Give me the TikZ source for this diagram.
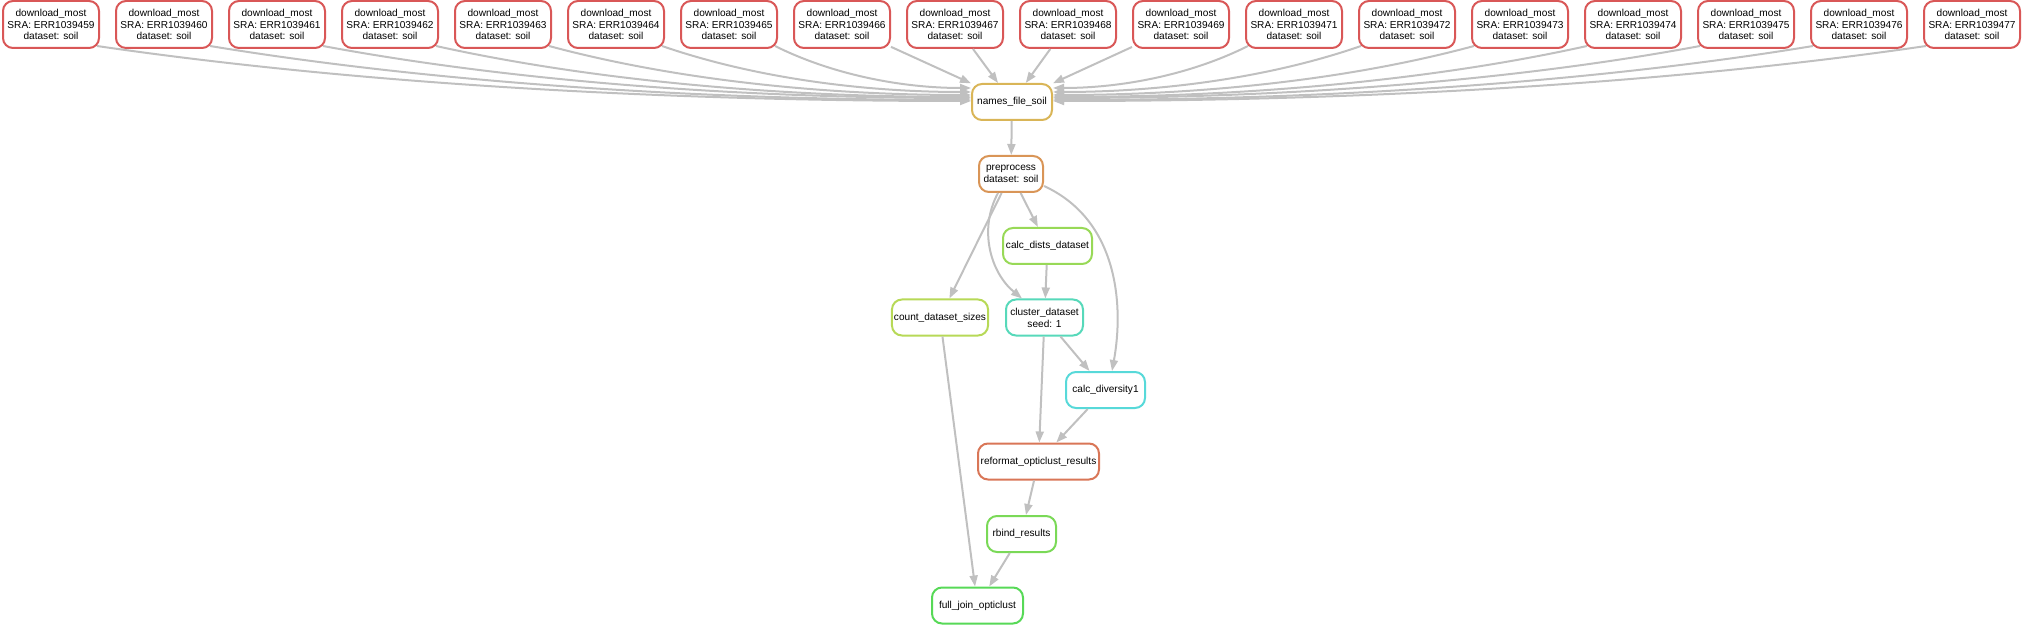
\documentclass[tikz,border=0pt]{standalone}
\usepackage{fontspec}
\setmainfont{Liberation Sans}
\usetikzlibrary{arrows.meta}
\definecolor{edgegray}{RGB}{192,192,192}
\definecolor{cdownload}{RGB}{217,87,87}
\definecolor{cnames}{RGB}{217,181,87}
\definecolor{cprep}{RGB}{217,149,87}
\definecolor{cdists}{RGB}{152,217,87}
\definecolor{ccount}{RGB}{183,217,87}
\definecolor{cclust}{RGB}{87,217,186}
\definecolor{cdiv}{RGB}{87,217,217}
\definecolor{creform}{RGB}{217,118,87}
\definecolor{crbind}{RGB}{122,217,87}
\definecolor{cjoin}{RGB}{87,217,87}
\begin{document}
\begin{tikzpicture}[x=1pt, y=-1pt,
  font=\fontsize{10.1pt}{11.8pt}\selectfont,
  job/.style={draw=#1, line width=2pt, rounded corners=10pt, fill=white,
    align=center, inner xsep=2pt, inner ysep=2pt, minimum height=36pt},
  dep/.style={draw=edgegray, line width=2pt, -{Triangle[length=11pt, width=8pt]}}]
  \useasboundingbox (0,0) rectangle (2024,628);
  % downloads
  \foreach \i/\sra in {1/459,2/460,3/461,4/462,5/463,6/464,7/465,8/466,9/467,
    10/468,11/469,12/471,13/472,14/473,15/474,16/475,17/476,18/477}
    {\node[job=cdownload, minimum width=96pt, minimum height=47pt] (d\i)
      at ({51+113*(\i-1)},24.5) {download\_most\\SRA: ERR1039\sra\\dataset: soil};}
  % rules
  \node[job=cnames, minimum width=80pt] (names) at (1012,102) {names\_file\_soil};
  \node[job=cprep, minimum width=64pt] (prep) at (1011,174) {preprocess\\dataset: soil};
  \node[job=cdists, minimum width=89pt] (dists) at (1047.5,246) {calc\_dists\_dataset};
  \node[job=ccount, minimum width=96pt] (count) at (940,317.5) {count\_dataset\_sizes};
  \node[job=cclust, minimum width=77pt] (clust) at (1044.5,317.5) {cluster\_dataset\\seed: 1};
  \node[job=cdiv, minimum width=79pt] (div) at (1105.5,390) {calc\_diversity1};
  \node[job=creform, minimum width=121pt] (reform) at (1038.5,461.5) {reformat\_opticlust\_results};
  \node[job=crbind, minimum width=69pt] (rbind) at (1021.5,534) {rbind\_results};
  \node[job=cjoin, minimum width=91pt] (join) at (977.5,605.5) {full\_join\_opticlust};
  % fan into names_file_soil
  \foreach \i/\ey in {1/101,2/100,3/98,4/97,5/95,6/92,7/88}{
    \pgfmathsetmacro\sx{51+113*(\i-1)+45}
    \pgfmathsetmacro\ca{\sx+0.3*(972-\sx)}
    \pgfmathsetmacro\cb{45+0.7*(\ey-45)}
    \pgfmathsetmacro\cc{972-0.35*(972-\sx)}
    \draw[dep] ([shift={(-3,-3)}]d\i.south east) .. controls (\ca,\cb) and (\cc,\ey) .. (names.west |- 0,\ey);
  }
  \foreach \i/\ey in {12/88,13/92,14/95,15/97,16/98,17/100,18/101}{
    \pgfmathsetmacro\sx{51+113*(\i-1)-45}
    \pgfmathsetmacro\ca{\sx-0.3*(\sx-1052)}
    \pgfmathsetmacro\cb{45+0.7*(\ey-45)}
    \pgfmathsetmacro\cc{1052+0.35*(\sx-1052)}
    \draw[dep] ([shift={(3,-3)}]d\i.south west) .. controls (\ca,\cb) and (\cc,\ey) .. (names.east |- 0,\ey);
  }
  \foreach \i in {8,...,11}
    {\draw[dep] (d\i) -- (names);}
  % workflow
  \draw[dep] (names) -- (prep);
  \draw[dep] (prep) -- (dists);
  \draw[dep] (prep) -- (count);
  \draw[dep] ([xshift=-13pt]prep.south) .. controls (978,230) and (991,273) .. ([xshift=-22.5pt]clust.north);
  \draw[dep] (prep.-20) .. controls (1118,220) and (1124,305) .. ([xshift=6.5pt]div.north);
  \draw[dep] (dists) -- (clust);
  \draw[dep] (clust) -- (div);
  \draw[dep] (clust) -- (reform);
  \draw[dep] (div) -- (reform);
  \draw[dep] (reform) -- (rbind);
  \draw[dep] (rbind) -- (join);
  \draw[dep] (count) -- (join);
\end{tikzpicture}
\end{document}
